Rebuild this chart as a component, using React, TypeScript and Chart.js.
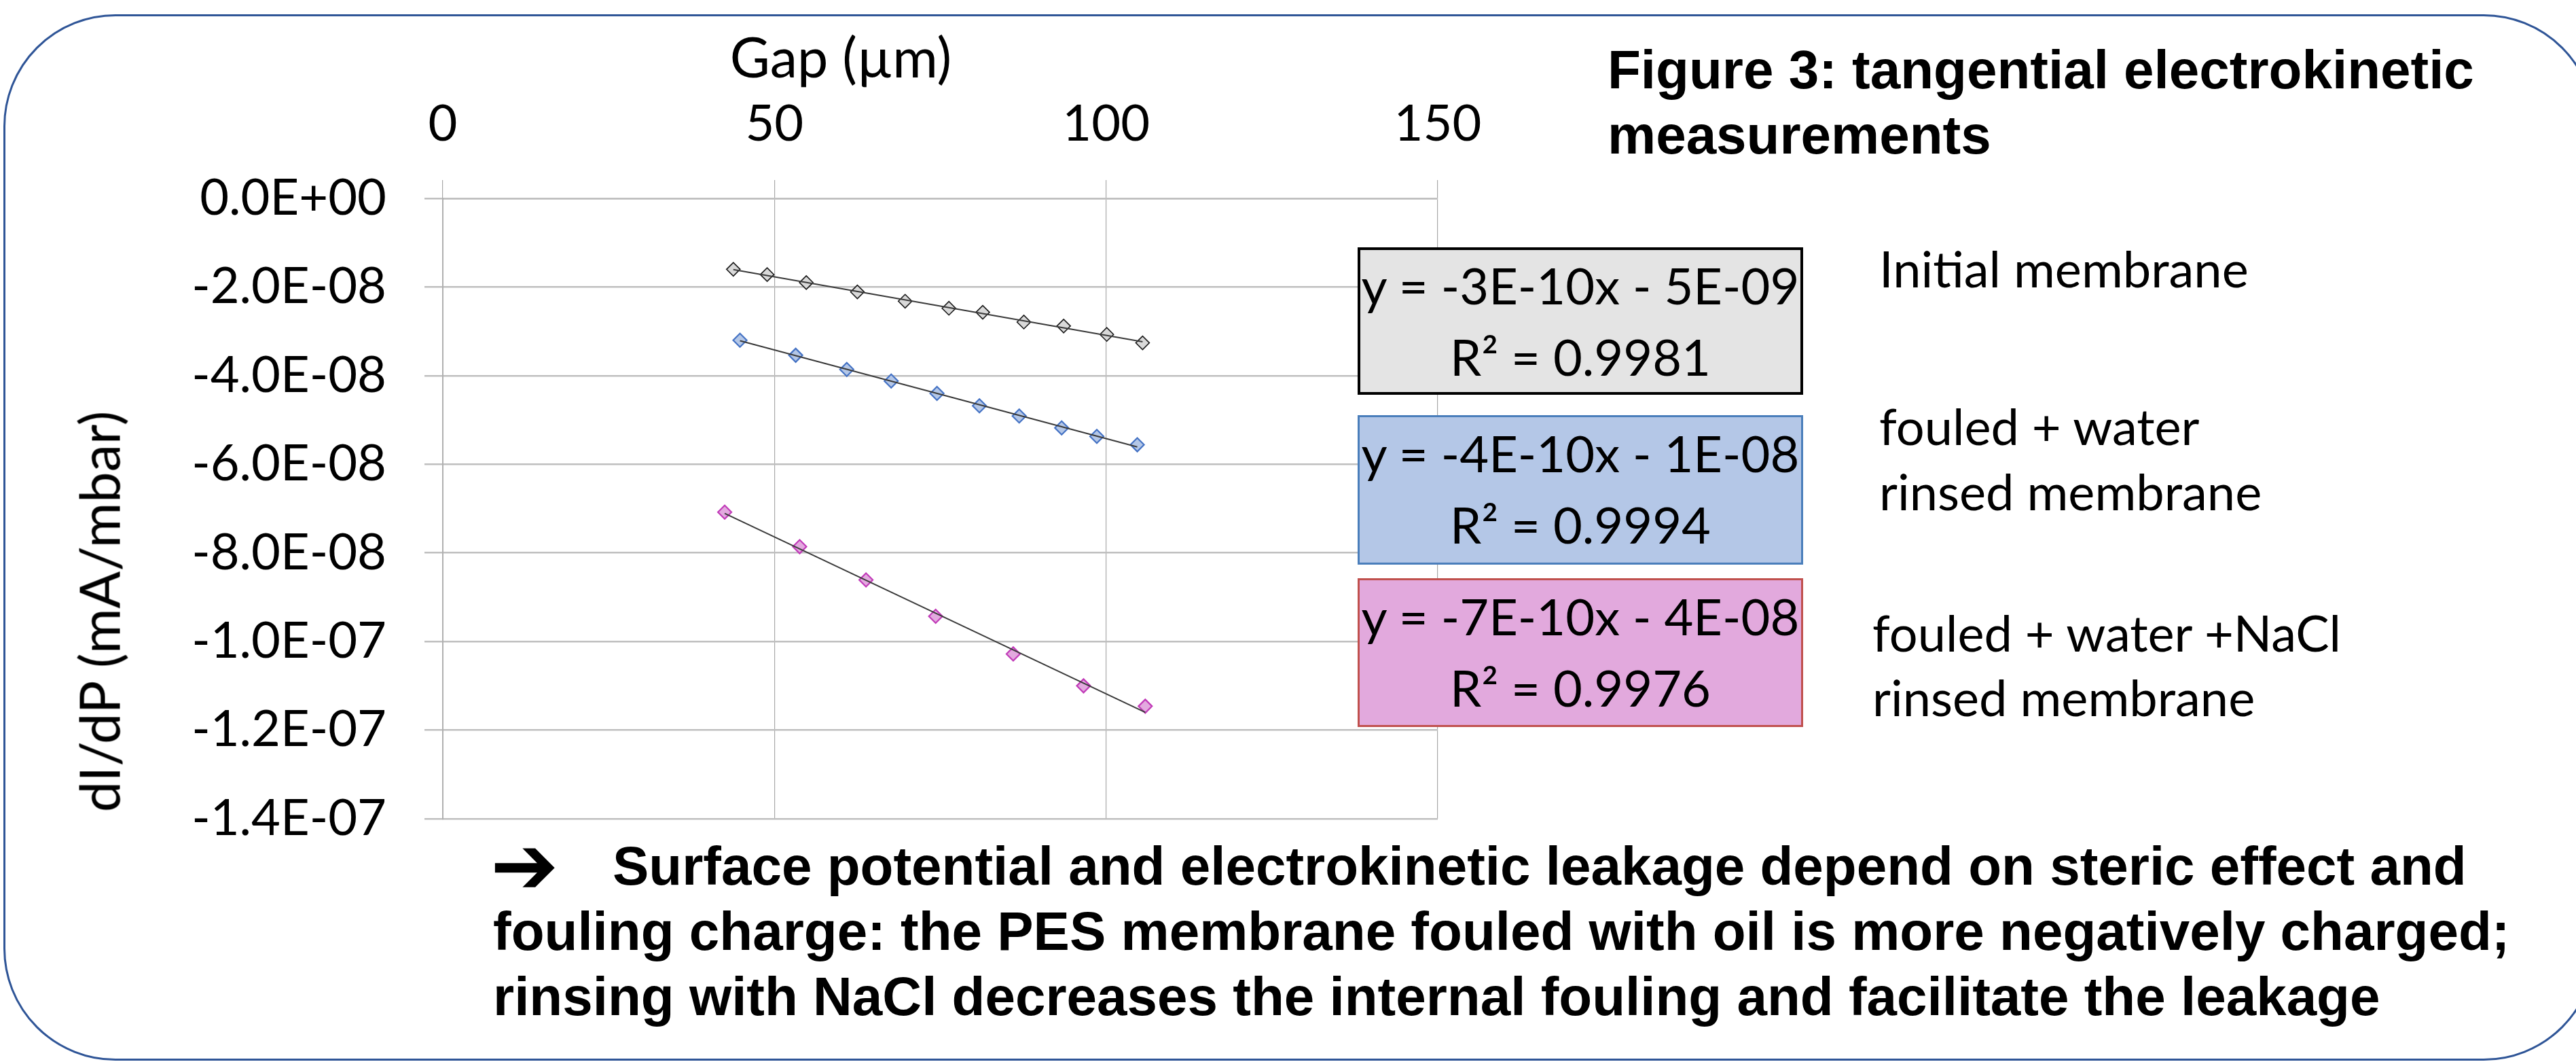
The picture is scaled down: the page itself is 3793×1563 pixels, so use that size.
import React, { useEffect, useRef } from 'react';
import { Chart, registerables } from 'chart.js';

Chart.register(...registerables);

// ---------------- data ----------------
const initialGap = [43.8, 48.9, 54.8, 62.5, 69.7, 76.3, 81.4, 87.6, 93.6, 100.1, 105.5];
const initialDIdP = [-1.6e-8, -1.72e-8, -1.9e-8, -2.11e-8, -2.32e-8, -2.48e-8, -2.57e-8, -2.79e-8, -2.88e-8, -3.07e-8, -3.26e-8];

const waterGap = [44.8, 53.2, 60.9, 67.6, 74.5, 80.9, 86.9, 93.3, 98.6, 104.7];
const waterDIdP = [-3.2e-8, -3.54e-8, -3.86e-8, -4.12e-8, -4.4e-8, -4.68e-8, -4.91e-8, -5.18e-8, -5.37e-8, -5.56e-8];

const naclGap = [42.5, 53.8, 63.8, 74.3, 86.0, 96.6, 105.9];
const naclDIdP = [-7.08e-8, -7.86e-8, -8.61e-8, -9.43e-8, -1.028e-7, -1.1e-7, -1.146e-7];

const xTickValues = [0, 50, 100, 150];
const xTickLabels = ['0', '50', '100', '150'];
const yTickValues = [0, -2e-8, -4e-8, -6e-8, -8e-8, -1e-7, -1.2e-7, -1.4e-7];
const yTickLabels = ['0.0E+00', '-2.0E-08', '-4.0E-08', '-6.0E-08', '-8.0E-08', '-1.0E-07', '-1.2E-07', '-1.4E-07'];

const xAxisTitle = 'Gap (\u00b5m)';
const yAxisTitle = 'dI/dP (mA/mbar)';
const figureTitle = ['Figure 3: tangential electrokinetic', 'measurements'];
const equations = ['y = -3E-10x - 5E-09', 'y = -4E-10x - 1E-08', 'y = -7E-10x - 4E-08'];
const r2Labels = ['R\u00b2 = 0.9981', 'R\u00b2 = 0.9994', 'R\u00b2 = 0.9976'];
const seriesLabels = [['Initial membrane'], ['fouled + water', 'rinsed membrane'], ['fouled + water +NaCl', 'rinsed membrane']];
const conclusionArrow = '\u2794';
const conclusionLines = [
  'Surface potential and electrokinetic leakage depend on steric effect and',
  'fouling charge: the PES membrane fouled with oil is more negatively charged;',
  'rinsing with NaCl decreases the internal fouling and facilitate the leakage',
];

// ---------------- helpers ----------------
const W = 3793;
const H = 1563;
const PLOT = { left: 652, right: 2117, top: 292, bottom: 1205 };

function linFit(xs: number[], ys: number[]) {
  const n = xs.length;
  const mx = xs.reduce((a, b) => a + b, 0) / n;
  const my = ys.reduce((a, b) => a + b, 0) / n;
  let sxy = 0;
  let sxx = 0;
  for (let i = 0; i < n; i++) {
    sxy += (xs[i] - mx) * (ys[i] - my);
    sxx += (xs[i] - mx) * (xs[i] - mx);
  }
  const slope = sxy / sxx;
  const b = my - slope * mx;
  const x0 = Math.min(...xs);
  const x1 = Math.max(...xs);
  return [
    { x: x0, y: slope * x0 + b },
    { x: x1, y: slope * x1 + b },
  ];
}

const pts = (xs: number[], ys: number[]) => xs.map((x, i) => ({ x, y: ys[i] }));

const CAL = 'Lato, "Open Sans", sans-serif';
const ARIAL = '"Liberation Sans", Arial, sans-serif';
const CAL_SIZE = 74;
const CAL_ASC = 0.887; // baseline offset from top of line box (line-height 1)
const AR_ASC = 0.8465;

function ChartCanvas() {
  const ref = useRef<HTMLCanvasElement | null>(null);
  useEffect(() => {
    if (!ref.current) return;
    const markerSets = [
      { data: pts(initialGap, initialDIdP), fill: '#D9D9D9', stroke: '#1A1A1A', bw: 1.6 },
      { data: pts(waterGap, waterDIdP), fill: '#B4C7E7', stroke: '#4472C4', bw: 2.2 },
      { data: pts(naclGap, naclDIdP), fill: '#E3A9DF', stroke: '#C13AB8', bw: 2.2 },
    ];
    const trendSets = [
      linFit(initialGap, initialDIdP),
      linFit(waterGap, waterDIdP),
      linFit(naclGap, naclDIdP),
    ];
    const datasets: any[] = [];
    trendSets.forEach((d) => {
      datasets.push({
        type: 'line',
        data: d,
        borderColor: '#3A3A3A',
        borderWidth: 2,
        pointRadius: 0,
        fill: false,
        order: 0,
      });
    });
    markerSets.forEach((m) => {
      datasets.push({
        type: 'scatter',
        data: m.data,
        pointStyle: 'rectRot',
        pointRadius: 10,
        backgroundColor: m.fill,
        borderColor: m.stroke,
        borderWidth: m.bw,
        showLine: false,
        order: 1,
      });
    });

    const chart = new Chart(ref.current, {
      type: 'scatter',
      data: { datasets },
      options: {
        responsive: false,
        animation: false,
        devicePixelRatio: 1,
        layout: {
          padding: { left: 0, top: 0, right: W - PLOT.right, bottom: H - PLOT.bottom },
        },
        plugins: {
          legend: { display: false },
          tooltip: { enabled: false },
          title: { display: false },
        },
        scales: {
          x: {
            type: 'linear',
            position: 'top',
            min: 0,
            max: 150,
            afterBuildTicks: (s: any) => {
              s.ticks = xTickValues.map((v) => ({ value: v }));
            },
            afterFit: (s: any) => {
              s.height = PLOT.top;
            },
            ticks: {
              callback: (_v: any, i: number) => xTickLabels[i],
              font: { family: CAL, size: CAL_SIZE },
              color: '#000',
              padding: 37,
              maxRotation: 0,
              autoSkip: false,
            },
            grid: { color: '#A8A8A8', lineWidth: 1.2, tickLength: 27, drawTicks: true },
            border: { display: true, color: '#BFBFBF', width: 2.5 },
          },
          y: {
            type: 'linear',
            min: -1.4e-7,
            max: 0,
            afterBuildTicks: (s: any) => {
              s.ticks = yTickValues.map((v) => ({ value: v }));
            },
            afterFit: (s: any) => {
              s.width = PLOT.left;
            },
            ticks: {
              callback: (_v: any, i: number) => yTickLabels[i],
              font: { family: CAL, size: CAL_SIZE },
              color: '#000',
              padding: 56,
              autoSkip: false,
            },
            grid: { color: '#BFBFBF', lineWidth: 2.5, tickLength: 27, drawTicks: true },
            border: { display: true, color: '#B0B0B0', width: 2 },
          },
        },
      },
    } as any);
    return () => chart.destroy();
  }, []);
  return (
    <canvas
      ref={ref}
      width={W}
      height={H}
      style={{ position: 'absolute', left: 0, top: 0, width: W, height: H }}
    />
  );
}

const calText = (baseline: number, size = CAL_SIZE) => ({
  position: 'absolute' as const,
  top: baseline - CAL_ASC * size,
  fontFamily: CAL,
  fontSize: size,
  lineHeight: 1,
  whiteSpace: 'nowrap' as const,
  color: '#000',
});

const arialBold = (baseline: number, size: number) => ({
  position: 'absolute' as const,
  top: baseline - AR_ASC * size,
  fontFamily: ARIAL,
  fontWeight: 700,
  fontSize: size,
  lineHeight: 1,
  whiteSpace: 'nowrap' as const,
  color: '#000',
});

const boxes = [
  { top: 364, height: 217, fill: '#E4E4E4', border: '#000000', bw: 4 },
  { top: 611, height: 220, fill: '#B4C7E7', border: '#4A7EBB', bw: 3 },
  { top: 851, height: 219, fill: '#E2A9DD', border: '#C0504D', bw: 3 },
];
const labelPos = [
  { left: 2767, baselines: [424] },
  { left: 2767, baselines: [656, 752] },
  { left: 2757, baselines: [960, 1055] },
];

export default function App() {
  return (
    <div
      style={{
        position: 'absolute',
        left: 0,
        top: 0,
        width: W,
        height: H,
        overflow: 'hidden',
        background: '#FFFFFF',
      }}
    >
      {/* rounded frame */}
      <div
        style={{
          position: 'absolute',
          left: 5,
          top: 21,
          width: 3822 - 5,
          height: 1561 - 21,
          boxSizing: 'border-box',
          border: '3px solid #2F5597',
          borderRadius: 165,
        }}
      />
      <ChartCanvas />

      {/* axis titles */}
      <div style={{ ...calText(114, 81), left: 1238, transform: 'translateX(-50%)' }}>{xAxisTitle}</div>
      <div
        style={{
          position: 'absolute',
          left: 145,
          top: 900,
          fontFamily: CAL,
          fontSize: 81,
          lineHeight: 1,
          whiteSpace: 'nowrap',
          transform: 'translate(-50%, -50%) rotate(-90deg)',
          color: '#000',
        }}
      >
        {yAxisTitle}
      </div>

      {/* figure title */}
      {figureTitle.map((t, i) => (
        <div key={'ft' + i} style={{ ...arialBold(131 + i * 96, 80), left: 2367 }}>
          {t}
        </div>
      ))}

      {/* trendline label boxes */}
      {boxes.map((b, i) => (
        <div
          key={'bx' + i}
          style={{
            position: 'absolute',
            left: 1999,
            top: b.top,
            width: 656,
            height: b.height,
            boxSizing: 'border-box',
            background: b.fill,
            border: `${b.bw}px solid ${b.border}`,
          }}
        />
      ))}
      {boxes.map((b, i) => (
        <React.Fragment key={'bt' + i}>
          <div style={{ ...calText(b.top + 85), left: 1999 + 328, transform: 'translateX(-50%)' }}>
            {equations[i]}
          </div>
          <div style={{ ...calText(b.top + 190), left: 1999 + 328, transform: 'translateX(-50%)' }}>
            {r2Labels[i]}
          </div>
        </React.Fragment>
      ))}

      {/* series labels */}
      {seriesLabels.map((lines, i) =>
        lines.map((t, j) => (
          <div key={'sl' + i + '_' + j} style={{ ...calText(labelPos[i].baselines[j]), left: labelPos[i].left }}>
            {t}
          </div>
        ))
      )}

      {/* conclusion */}
      <div
        style={{
          position: 'absolute',
          left: 722,
          top: 1274,
          fontFamily: '"DejaVu Sans", sans-serif',
          fontWeight: 700,
          fontSize: 120,
          lineHeight: 1,
          transform: 'translateY(-50%)',
          color: '#000',
        }}
      >
        {conclusionArrow}
      </div>
      {conclusionLines.map((t, i) => (
        <div key={'cl' + i} style={{ ...arialBold(1303 + i * 96, 80), left: i === 0 ? 902 : 726 }}>
          {t}
        </div>
      ))}
    </div>
  );
}
